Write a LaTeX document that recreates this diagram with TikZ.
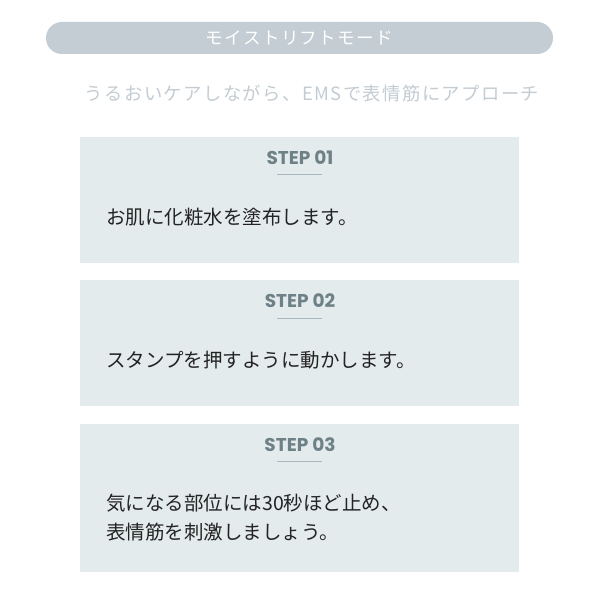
\documentclass[tikz,border=0pt]{standalone}
\usepackage{fontspec}
\usepackage{tikz}

\newfontfamily\jpfont{Noto Sans CJK JP}
\newfontfamily\jpspaced{Noto Sans CJK JP}[LetterSpace=8]
\newfontfamily\stepfont{Poppins}

\definecolor{bannergray}{HTML}{C3CDD3}
\definecolor{subgray}{HTML}{C3CCD2}
\definecolor{panelgray}{HTML}{E4EBED}
\definecolor{stepgray}{HTML}{6E8187}
\definecolor{rulegray}{HTML}{A9B8BE}
\definecolor{bodyink}{HTML}{232323}

\begin{document}
\begin{tikzpicture}[x=1pt, y=-1pt,
  banner/.style={fill=bannergray, rounded corners=16pt, minimum width=507pt, minimum height=32pt, text=white, font=\jpspaced\fontsize{17.5}{17.5}\selectfont},
  panel/.style={fill=panelgray, anchor=north west, minimum width=439pt, inner sep=0pt},
  steplabel/.style={text=stepgray, inner sep=0pt, font=\stepfont\bfseries\fontsize{18.5}{18.5}\selectfont},
  stepline/.style={draw=rulegray, line width=0.8pt},
  bodytext/.style={text=bodyink, anchor=west, inner sep=0pt, align=left, font=\jpfont\fontsize{19.5}{29}\selectfont}]
\useasboundingbox[fill=white] (0,0) rectangle (600,604);

% Title banner
\node[banner] at (299.5,38) (mode) {モイストリフトモード};
\node[text=subgray, font=\jpspaced\fontsize{18.3}{18.3}\selectfont] at (312,94) (lead) {うるおいケアしながら、EMSで表情筋にアプローチ};

% Step 1
\node[panel, minimum height=126pt] at (80,137) (panel1) {};
\node[steplabel] at (300,157.5) (step1) {STEP 01};
\draw[stepline] (277,174) -- ++(45,0);
\node[bodytext] at (106,217) (text1) {お肌に化粧水を塗布します。};

% Step 2
\node[panel, minimum height=126pt] at (80,280) (panel2) {};
\node[steplabel] at (300,300.5) (step2) {STEP 02};
\draw[stepline] (277,318) -- ++(45,0);
\node[bodytext] at (106,360) (text2) {スタンプを押すように動かします。};

% Step 3
\node[panel, minimum height=148pt] at (80,424) (panel3) {};
\node[steplabel] at (300,444.5) (step3) {STEP 03};
\draw[stepline] (277,461) -- ++(45,0);
\node[bodytext] at (106,517.5) (text3) {気になる部位には30秒ほど止め、\\表情筋を刺激しましょう。};
\end{tikzpicture}
\end{document}
